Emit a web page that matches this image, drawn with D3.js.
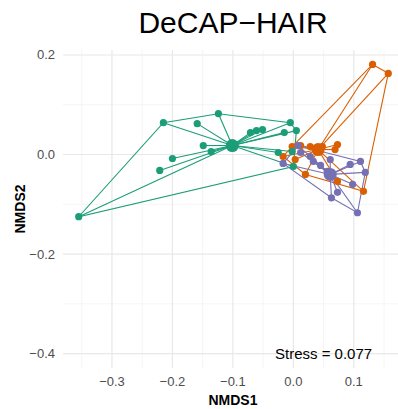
<!DOCTYPE html>
<html>
<head>
<meta charset="utf-8">
<script src="https://cdn.jsdelivr.net/npm/d3@7"></script>
<style>
  body { margin: 0; background: #fff; }
  text { font-family: "Liberation Sans", Arial, sans-serif; }
</style>
</head>
<body>
<div id="chart"></div>
<script>
    var width = 398,
        height = 409;

    // NMDS scores
    var greenPts = [[-0.355,-0.125],[-0.221,-0.032],[-0.200,-0.008],[-0.215,0.064],[-0.159,0.062],
        [-0.124,0.082],[-0.149,0.018],[-0.136,0.006],[-0.071,0.044],[-0.061,0.048],[-0.051,0.050],
        [-0.015,0.044],[-0.005,0.064],[0.005,0.048],[-0.025,0.004],[-0.002,0.006],[0.000,-0.024]];
    var orangePts = [[0.131,0.181],[0.157,0.163],[-0.002,0.016],[0.012,0.018],[0.028,0.016],[0.048,0.016],
        [0.073,0.020],[0.069,0.010],[-0.017,-0.004],[0.003,-0.010],[0.020,-0.040],[0.073,-0.054],[0.116,-0.074]];
    var purplePts = [[0.008,0.018],[0.012,0.004],[0.028,-0.004],[0.033,-0.014],[-0.017,-0.018],[0.061,-0.010],
        [0.056,-0.034],[0.094,-0.020],[0.111,-0.014],[0.119,-0.036],[0.098,-0.060],[0.073,-0.076],
        [0.063,-0.087],[0.106,-0.117],[0.045,-0.022]];
    var centroids = [[-0.101,0.018],[0.041,0.010],[0.061,-0.040]];
    var groupColors = ['#1B9E77','#D95F02','#7570B3'];
    var xTicks = [-0.3,-0.2,-0.1,0.0,0.1];
    var yTicks = [-0.4,-0.2,0.0,0.2];
    var xMinor = [-0.35,-0.25,-0.15,-0.05,0.05,0.15];
    var yMinor = [-0.3,-0.1,0.1];
    var stress = '0.077';

    var groups = [greenPts, orangePts, purplePts];

    var x = d3.scaleLinear().domain([-0.381, 0.183]).range([63, 404]);
    var y = d3.scaleLinear().domain([-0.429, 0.21]).range([368, 50]);

    var svg = d3.select('#chart').append('svg')
        .attr('width', width)
        .attr('height', height);

    var grid = svg.append('g');
    grid.selectAll('.vminor').data(xMinor).enter().append('line')
        .attr('x1', d => x(d)).attr('x2', d => x(d))
        .attr('y1', 50).attr('y2', 368)
        .attr('stroke', '#f2f2f2').attr('stroke-width', 0.8);
    grid.selectAll('.hminor').data(yMinor).enter().append('line')
        .attr('y1', d => y(d)).attr('y2', d => y(d))
        .attr('x1', 63).attr('x2', 404)
        .attr('stroke', '#f2f2f2').attr('stroke-width', 0.8);
    grid.selectAll('.vmajor').data(xTicks).enter().append('line')
        .attr('x1', d => x(d)).attr('x2', d => x(d))
        .attr('y1', 50).attr('y2', 368)
        .attr('stroke', '#e8e8e8').attr('stroke-width', 1.2);
    grid.selectAll('.hmajor').data(yTicks).enter().append('line')
        .attr('y1', d => y(d)).attr('y2', d => y(d))
        .attr('x1', 63).attr('x2', 404)
        .attr('stroke', '#e8e8e8').attr('stroke-width', 1.2);

    // tick labels
    svg.selectAll('.xlab').data(xTicks).enter().append('text')
        .attr('x', d => x(d)).attr('y', 386)
        .attr('text-anchor', 'middle')
        .attr('font-size', 13).attr('fill', '#4d4d4d')
        .text(d => d3.format('.1f')(d).replace('-', '\u2212'));
    svg.selectAll('.ylab').data(yTicks).enter().append('text')
        .attr('x', 55).attr('y', d => y(d) + 4.5)
        .attr('text-anchor', 'end')
        .attr('font-size', 13).attr('fill', '#4d4d4d')
        .text(d => d3.format('.1f')(d).replace('-', '\u2212'));

    // hulls and spiders
    var line = d3.line().x(d => x(d[0])).y(d => y(d[1]));
    groups.forEach(function(pts, i){
        var hull = d3.polygonHull(pts);
        svg.append('path')
            .attr('d', line(hull) + 'Z')
            .attr('fill', 'none')
            .attr('stroke', groupColors[i]).attr('stroke-width', 1.1);
        svg.append('g').selectAll('line').data(pts).enter().append('line')
            .attr('x1', x(centroids[i][0])).attr('y1', y(centroids[i][1]))
            .attr('x2', d => x(d[0])).attr('y2', d => y(d[1]))
            .attr('stroke', groupColors[i]).attr('stroke-width', 1.1);
    });

    // points
    [1, 2, 0].forEach(function(i){
        svg.append('g').selectAll('circle').data(groups[i]).enter().append('circle')
            .attr('cx', d => x(d[0])).attr('cy', d => y(d[1]))
            .attr('r', 3.6)
            .attr('fill', groupColors[i]);
        svg.append('circle')
            .attr('cx', x(centroids[i][0])).attr('cy', y(centroids[i][1]))
            .attr('r', 6.5)
            .attr('fill', groupColors[i]);
    });

    svg.append('text')
        .attr('x', x(0.05)).attr('y', y(-0.4) + 5)
        .attr('text-anchor', 'middle')
        .attr('font-size', 15).attr('fill', '#000')
        .text('Stress = ' + stress);

    // titles
    svg.append('text')
        .attr('x', 233).attr('y', 33)
        .attr('text-anchor', 'middle')
        .attr('font-size', 30).attr('fill', '#000')
        .text('DeCAP\u2212HAIR');
    svg.append('text')
        .attr('x', 233).attr('y', 405)
        .attr('text-anchor', 'middle')
        .attr('font-size', 14).attr('font-weight', 'bold')
        .text('NMDS1');
    svg.append('text')
        .attr('transform', 'translate(25,209) rotate(-90)')
        .attr('text-anchor', 'middle')
        .attr('font-size', 14).attr('font-weight', 'bold')
        .text('NMDS2');
</script>
</body>
</html>
